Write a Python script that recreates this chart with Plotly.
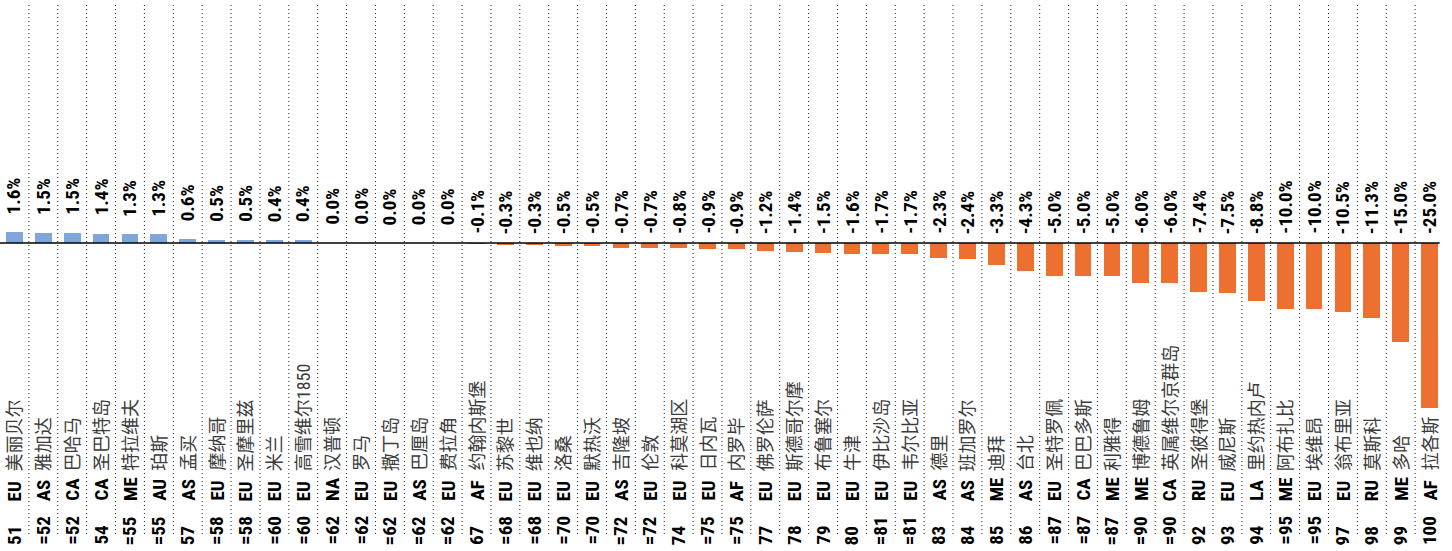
import plotly.graph_objects as go

# Ranking table: rank, region code, city, annual change (%)
ranks = ["51", "=52", "=52", "54", "=55", "=55", "57", "=58", "=58", "=60",
         "=60", "=62", "=62", "=62", "=62", "=62", "67", "=68", "=68", "=70",
         "=70", "=72", "=72", "74", "=75", "=75", "77", "78", "79", "80",
         "=81", "=81", "83", "84", "85", "86", "=87", "=87", "=87", "=90",
         "=90", "92", "93", "94", "=95", "=95", "97", "98", "99", "100"]
regions = ["EU", "AS", "CA", "CA", "ME", "AU", "AS", "EU", "EU", "EU",
           "EU", "NA", "EU", "EU", "AS", "EU", "AF", "EU", "EU", "EU",
           "EU", "AS", "EU", "EU", "EU", "AF", "EU", "EU", "EU", "EU",
           "EU", "EU", "AS", "AS", "ME", "AS", "EU", "CA", "ME", "ME",
           "CA", "RU", "EU", "LA", "ME", "EU", "EU", "RU", "ME", "AF"]
cities = ["美丽贝尔", "雅加达", "巴哈马", "圣巴特岛", "特拉维夫", "珀斯", "孟买", "摩纳哥", "圣摩里兹", "米兰",
          "高雪维尔1850", "汉普顿", "罗马", "撒丁岛", "巴厘岛", "费拉角", "约翰内斯堡", "苏黎世", "维也纳", "洛桑",
          "默热沃", "吉隆坡", "伦敦", "科莫湖区", "日内瓦", "内罗毕", "佛罗伦萨", "斯德哥尔摩", "布鲁塞尔", "牛津",
          "伊比沙岛", "韦尔比亚", "德里", "班加罗尔", "迪拜", "台北", "圣特罗佩", "巴巴多斯", "利雅得", "博德鲁姆",
          "英属维尔京群岛", "圣彼得堡", "威尼斯", "里约热内卢", "阿布扎比", "埃维昂", "翁布里亚", "莫斯科", "多哈", "拉各斯"]
changes = [1.6, 1.5, 1.5, 1.4, 1.3, 1.3, 0.6, 0.5, 0.5, 0.4,
           0.4, 0.0, 0.0, 0.0, 0.0, 0.0, -0.1, -0.3, -0.3, -0.5,
           -0.5, -0.7, -0.7, -0.8, -0.9, -0.9, -1.2, -1.4, -1.5, -1.6,
           -1.7, -1.7, -2.3, -2.4, -3.3, -4.3, -5.0, -5.0, -5.0, -6.0,
           -6.0, -7.4, -7.5, -8.8, -10.0, -10.0, -10.5, -11.3, -15.0, -25.0]

W, H = 1452, 551
BLUE = "#7EA6DA"
ORANGE = "#EE7030"
COND = "Roboto Condensed, Open Sans Condensed, Noto Sans CJK SC"
x = list(range(len(changes)))

fig = go.Figure(go.Bar(
    x=x, y=changes, width=0.58,
    marker=dict(color=[BLUE if v > 0 else ORANGE for v in changes], line=dict(width=0)),
    hoverinfo="skip",
))


def py(px):
    """Pixel row (from top) to paper coordinate."""
    return 1 - px / H


bold = dict(family=COND, size=19, color="#000000", weight="bold")
annotations = []
for i, (rk, rg, city, v) in enumerate(zip(ranks, regions, cities, changes)):
    # value label above the bar (or above the axis for falls)
    annotations.append(dict(
        x=i, y=max(v, 0), xref="x", yref="y", text=f"{v:.1f}%",
        textangle=-90, xanchor="center", yanchor="bottom",
        yshift=16 if v >= 0 else 7, showarrow=False, font=bold,
    ))
    # bottom table: rank, region, city
    annotations.append(dict(
        x=i, y=py(547), xref="x", yref="paper", text=rk, textangle=-90,
        xanchor="center", yanchor="bottom", showarrow=False, font=bold,
    ))
    annotations.append(dict(
        x=i, y=py(503), xref="x", yref="paper", text=rg, textangle=-90,
        xanchor="center", yanchor="bottom", showarrow=False, font=bold,
    ))
    annotations.append(dict(
        x=i, y=py(473), xref="x", yref="paper", text=city, textangle=-90,
        xanchor="center", yanchor="bottom", showarrow=False,
        font=dict(family=COND, size=18, color="#3c3c3c"),
    ))

shapes = []
# dotted column separators
for i in range(len(changes) - 1):
    shapes.append(dict(
        type="line", xref="x", yref="paper", x0=i + 0.5, x1=i + 0.5,
        y0=py(5), y1=py(537), line=dict(color="#222222", width=1, dash="1px,3px"),
    ))
# zero line
shapes.append(dict(
    type="line", xref="paper", yref="y", x0=0, x1=0.997, y0=0, y1=0,
    line=dict(color="#000000", width=1.5),
))

PX_PER_PCT = 6.6
ZERO_PX = 243
fig.update_layout(
    width=W, height=H,
    margin=dict(l=0, r=8, t=0, b=0),
    paper_bgcolor="white", plot_bgcolor="white",
    showlegend=False,
    xaxis=dict(range=[-0.5, len(changes) - 0.5], visible=False, fixedrange=True),
    yaxis=dict(range=[-(H - ZERO_PX) / PX_PER_PCT, ZERO_PX / PX_PER_PCT],
               visible=False, fixedrange=True),
    annotations=annotations,
    shapes=shapes,
    bargap=0,
)

fig.write_html("out.html")
